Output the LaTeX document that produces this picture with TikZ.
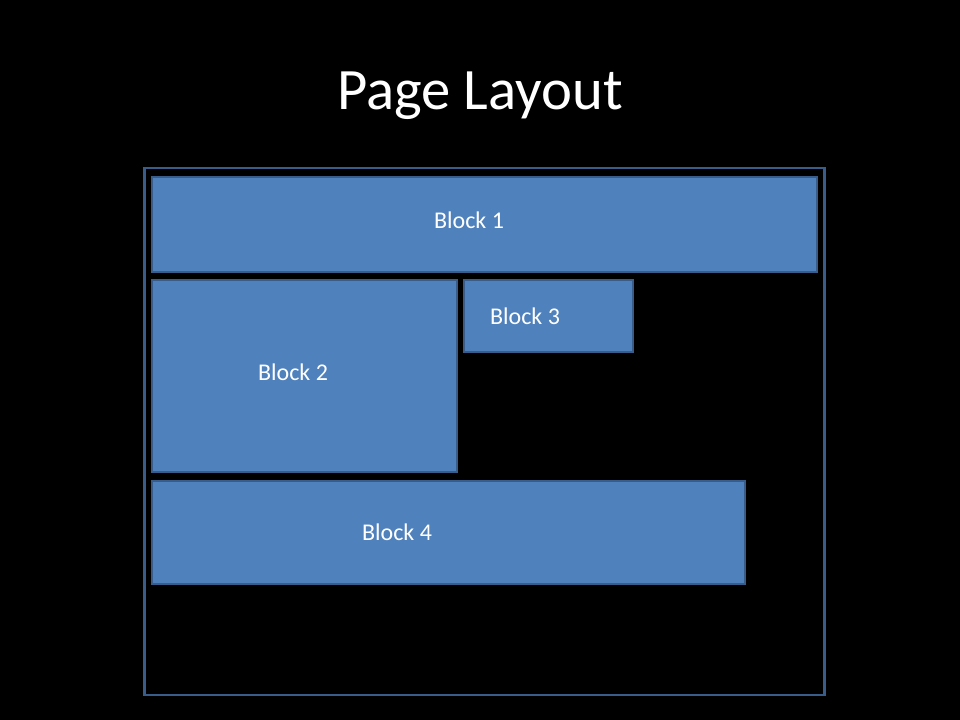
\documentclass[tikz,border=0pt]{standalone}
\usepackage{fontspec}
\setmainfont{Carlito}
\definecolor{blkfill}{HTML}{4F81BD}
\definecolor{blkline}{HTML}{385D8A}
\begin{document}
\begin{tikzpicture}[x=0.75pt,y=-0.75pt,
  blockbox/.style={draw=blkline,fill=blkfill,line width=2.1pt},
  lbl/.style={text=white,font=\fontsize{18}{21}\selectfont,inner sep=0pt}]
\fill[black] (0,0) rectangle (960,720);
\useasboundingbox (0,0) rectangle (960,720);
\node[text=white,font=\fontsize{44}{52}\selectfont,inner sep=0pt] (title) at (480,96) {Page Layout};
\draw[draw=blkline,line width=2.1pt] (144.5,168) rectangle (824.5,695) coordinate (frame);
\draw[blockbox] (152,177) rectangle (817,272);
\draw[blockbox] (152,280) rectangle (457,472);
\draw[blockbox] (464,280) rectangle (633,352);
\draw[blockbox] (152,481) rectangle (745,584);
\node[lbl] (b1) at (469,220) {Block 1};
\node[lbl] (b2) at (293,372) {Block 2};
\node[lbl] (b3) at (525,316) {Block 3};
\node[lbl] (b4) at (397,532) {Block 4};
\end{tikzpicture}
\end{document}
